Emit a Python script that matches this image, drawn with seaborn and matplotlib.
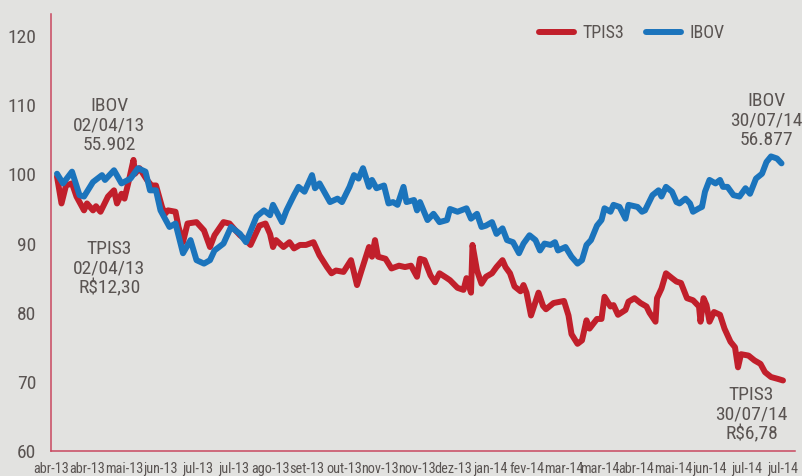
import numpy as np
import pandas as pd
import matplotlib
matplotlib.use("Agg")
import matplotlib.pyplot as plt
from matplotlib import font_manager
from matplotlib.lines import Line2D
import seaborn as sns

# ---- data (days since 02/04/13, index base 100) ----
ibov_days = [0, 4, 10, 15, 18, 24, 30, 32, 38, 43, 49, 54, 59, 62, 66, 69, 75, 79, 84, 89,
             93, 98, 102, 105, 111, 116, 122, 126, 129, 133, 138, 142, 144, 150, 153, 158, 161,
             165, 170, 172, 175, 182, 187, 190, 195, 198, 201, 204, 208, 210, 213, 218, 221,
             224, 227, 231, 233, 238, 240, 242, 247, 251, 255, 260, 262, 267, 273, 276, 280,
             283, 286, 290, 293, 297, 300, 304, 308, 311, 315, 319, 322, 325, 329, 332, 334,
             339, 343, 347, 350, 353, 356, 360, 363, 365, 369, 371, 375, 379, 381, 387, 390,
             392, 397, 401, 403, 406, 410, 413, 415, 419, 422, 424, 428, 430, 432, 435, 439,
             442, 444, 447, 451, 455, 459, 462, 466, 470, 473, 476, 480, 483]
ibov_vals = [100.1, 98.7, 100.4, 97.0, 96.8, 98.9, 99.9, 99.2, 100.6, 98.7, 99.4, 100.9, 100.4,
             97.7, 97.7, 94.8, 92.4, 92.9, 88.6, 90.5, 87.6, 87.1, 87.6, 89.0, 90.0, 92.4, 91.4,
             90.2, 91.8, 93.9, 94.8, 94.1, 95.6, 93.1, 94.8, 97.0, 98.2, 97.5, 99.9, 98.0, 98.7,
             96.0, 96.5, 96.0, 98.2, 99.9, 99.4, 100.9, 98.2, 99.2, 98.0, 98.4, 95.8, 96.0, 95.6,
             98.2, 96.0, 96.3, 94.8, 96.0, 93.4, 94.3, 93.1, 93.4, 95.0, 94.6, 95.1, 93.6, 94.3,
             92.4, 92.6, 93.1, 91.4, 92.2, 90.5, 90.2, 88.6, 90.0, 91.2, 90.5, 89.0, 90.0, 89.8,
             90.2, 89.0, 89.5, 88.1, 87.1, 87.6, 89.8, 90.5, 92.6, 93.4, 95.1, 94.6, 95.6, 95.3,
             93.6, 95.6, 95.3, 94.6, 94.8, 97.0, 97.7, 96.8, 98.2, 97.5, 96.0, 95.8, 96.5, 95.8,
             94.6, 95.1, 95.3, 97.5, 99.2, 98.7, 99.2, 98.2, 98.2, 97.0, 96.8, 98.0, 97.2, 99.4,
             100.1, 101.8, 102.6, 102.3, 101.6]

tpis_days = [0, 3, 6, 10, 13, 18, 20, 24, 26, 29, 34, 38, 40, 43, 45, 48, 51, 52, 55, 60, 63,
             66, 70, 72, 74, 79, 81, 84, 87, 93, 98, 102, 105, 111, 115, 119, 122, 125, 129, 135,
             139, 142, 144, 146, 151, 155, 158, 162, 166, 171, 175, 180, 183, 186, 191, 196, 200,
             203, 208, 210, 212, 214, 219, 223, 228, 232, 236, 240, 242, 245, 249, 252, 255, 260,
             262, 267, 271, 273, 276, 277, 280, 283, 286, 290, 293, 297, 299, 302, 305, 309, 311,
             313, 316, 321, 324, 326, 331, 338, 341, 343, 347, 350, 353, 355, 360, 363, 365, 369,
             371, 374, 379, 381, 385, 389, 393, 395, 399, 400, 403, 406, 410, 413, 416, 420, 424,
             428, 429, 431, 433, 435, 438, 442, 445, 449, 452, 454, 456, 461, 465, 469, 472, 476,
             481, 484]
tpis_vals = [99.7, 95.8, 98.4, 98.7, 96.8, 94.8, 95.8, 94.8, 95.4, 94.6, 96.8, 97.7, 95.8, 97.2,
             96.5, 99.2, 102.1, 100.1, 100.9, 99.2, 98.4, 98.4, 95.3, 94.3, 94.8, 94.6, 92.4, 90.2,
             92.9, 93.1, 91.9, 89.5, 91.2, 93.1, 92.9, 91.9, 91.2, 90.7, 89.8, 92.6, 92.9, 91.4,
             89.5, 90.5, 89.5, 90.2, 89.3, 89.8, 89.8, 90.2, 88.3, 86.6, 85.7, 86.1, 85.9, 87.6,
             84.0, 86.1, 89.5, 88.1, 90.5, 88.1, 87.8, 86.4, 86.8, 86.6, 86.8, 85.2, 87.8, 87.6,
             85.4, 84.4, 85.7, 85.0, 84.7, 83.6, 83.3, 85.0, 82.9, 89.8, 86.1, 84.2, 85.2, 85.7,
             86.6, 87.6, 86.6, 85.7, 83.8, 83.1, 84.0, 82.9, 79.6, 82.9, 81.0, 80.5, 81.4, 81.7,
             79.6, 76.9, 75.5, 76.0, 78.9, 77.7, 79.1, 79.1, 82.3, 80.9, 81.1, 79.7, 80.4, 81.6,
             82.1, 81.4, 80.9, 80.0, 78.7, 82.1, 83.5, 85.7, 85.0, 84.5, 84.3, 82.1, 81.8, 80.9,
             78.7, 82.1, 81.1, 78.7, 80.1, 79.7, 77.7, 75.8, 75.0, 72.1, 74.0, 73.8, 73.1, 72.6,
             71.4, 70.7, 70.4, 70.2]

tick_labels = ["abr-13", "abr-13", "mai-13", "jun-13", "jul-13", "jul-13", "ago-13", "set-13",
               "out-13", "nov-13", "nov-13", "dez-13", "jan-14", "fev-14", "mar-14", "mar-14",
               "abr-14", "mai-14", "jun-14", "jul-14", "jul-14"]
y_ticks = [60, 70, 80, 90, 100, 110, 120]

series_names = ["TPIS3", "IBOV"]
colors = {"TPIS3": "#c11f2b", "IBOV": "#1b74bc"}

annotations = [
    ("IBOV\n02/04/13\n55.902", 35, 107.1),
    ("TPIS3\n02/04/13\nR$12,30", 35, 86.4),
    ("IBOV\n30/07/14\n56.877", 473, 107.8),
    ("TPIS3\n30/07/14\nR$6,78", 463, 65.3),
]

df = pd.concat([
    pd.DataFrame({"day": tpis_days, "value": tpis_vals, "serie": "TPIS3"}),
    pd.DataFrame({"day": ibov_days, "value": ibov_vals, "serie": "IBOV"}),
])

# ---- style ----
bg = "#e2e2e0"
axis_col = "#c9475f"
txt_col = "#5a5452"
sns.set_style("white")

# pick a condensed font if one is installed
flist = font_manager.fontManager.ttflist
names = {f.name for f in flist}
family = None
stretch = "normal"
scale = 1.0
for cand in ["Roboto Condensed", "Liberation Sans Narrow", "Open Sans Condensed",
             "Noto Sans Condensed", "Arial Narrow"]:
    if cand in names:
        family = cand
        break
if family is None:
    for fam in ["DejaVu Sans", "Noto Sans", "Roboto", "Open Sans"]:
        if any(f.name == fam and str(f.stretch) in ("condensed", "semi-condensed", "75", "87")
               for f in flist):
            family = fam
            stretch = "condensed"
            break
if family is None:
    family = "Roboto"
    scale = 0.88
plt.rcParams["font.family"] = [family, "DejaVu Sans"]
plt.rcParams["font.stretch"] = stretch

fig = plt.figure(figsize=(8.03, 4.76), dpi=100, facecolor=bg)
ax = fig.add_axes([51 / 803, 25 / 476, 744 / 803, 437 / 476])
ax.set_facecolor(bg)

for name in series_names:
    sub = df[df["serie"] == name]
    sns.lineplot(data=sub, x="day", y="value", ax=ax, color=colors[name], linewidth=4.3,
                 estimator=None, sort=False, label=name, legend=False,
                 solid_joinstyle="round", solid_capstyle="round")

# tick positions: evenly spaced every 24.4 days starting 4 days before 02/04/13
tick_pos = [-4 + 24.4 * i for i in range(len(tick_labels))]
ax.set_xlim(-4, 492)
ax.set_ylim(60, 123.2)
ax.set_xticks(tick_pos)
ax.set_xticklabels(tick_labels, fontsize=10.3 * scale, color=txt_col)
ax.set_yticks(y_ticks)
ax.set_yticklabels([str(v) for v in y_ticks], fontsize=14 * scale, color=txt_col)
ax.tick_params(axis="x", direction="out", length=5, width=1.1, color=axis_col, pad=3)
ax.tick_params(axis="y", direction="out", length=8, width=1.1, color=axis_col, pad=2.5)
ax.set_xlabel("")
ax.set_ylabel("")
for s in ["top", "right"]:
    ax.spines[s].set_visible(False)
for s in ["left", "bottom"]:
    ax.spines[s].set_color(axis_col)
    ax.spines[s].set_linewidth(1.1)
ax.grid(False)

# annotations
ann_kw = dict(fontsize=14 * scale, color=txt_col, ha="center", va="center", linespacing=1.12)
for txt, xd, yv in annotations:
    ax.text(xd, yv, txt, **ann_kw)

# legend
handles = [Line2D([0], [0], color=colors[n], linewidth=4.3, solid_capstyle="round") for n in series_names]
leg = ax.legend(handles, series_names, loc="center", bbox_to_anchor=(0.781, 0.956), ncol=2,
                frameon=False, fontsize=13 * scale, handlelength=1.9, handletextpad=0.5,
                columnspacing=1.2)
for t in leg.get_texts():
    t.set_color(txt_col)

fig.savefig("out.png", dpi=100, facecolor=bg)
